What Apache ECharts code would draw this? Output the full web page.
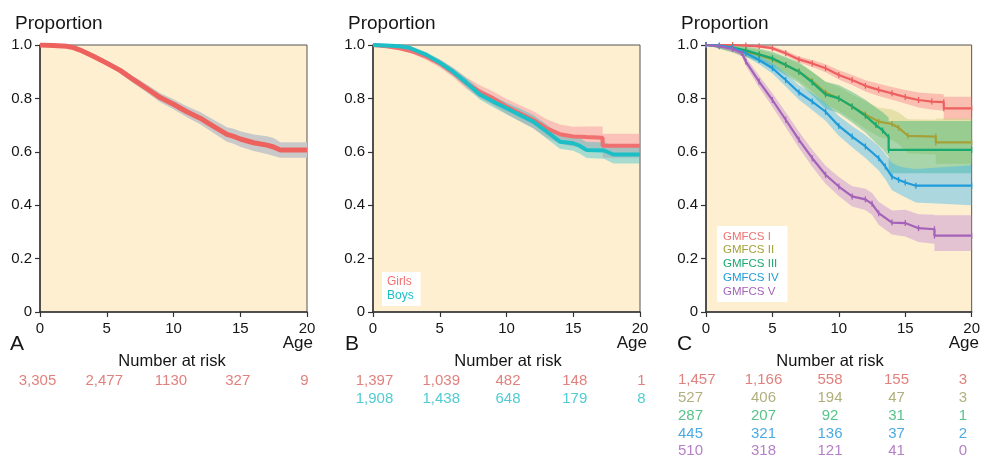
<!DOCTYPE html>
<html><head><meta charset="utf-8">
<script src="https://cdn.jsdelivr.net/npm/echarts@6/dist/echarts.min.js"></script>
<style>html,body{margin:0;padding:0;background:#fff}#c{width:983px;height:460px}</style>
</head><body><div id="c"></div>
<script>
// ---------- Panel A: all ----------
const ageA  = [0, 1, 2, 2.5, 3, 4, 5, 6, 7, 8, 9, 10, 11, 12, 13, 14, 14.5, 15, 16, 17, 17.5, 18, 20];
const survA = [1.0, 0.998, 0.995, 0.99, 0.981, 0.958, 0.932, 0.905, 0.87, 0.837, 0.803, 0.778, 0.75, 0.726, 0.695, 0.665, 0.658, 0.648, 0.634, 0.625, 0.618, 0.607, 0.607];
const lowA  = [1.0, 0.996, 0.992, 0.986, 0.976, 0.951, 0.923, 0.894, 0.857, 0.822, 0.786, 0.759, 0.729, 0.703, 0.670, 0.638, 0.630, 0.619, 0.603, 0.592, 0.584, 0.578, 0.578];
const highA = [1.0, 1.0, 0.998, 0.994, 0.986, 0.965, 0.941, 0.916, 0.883, 0.852, 0.820, 0.797, 0.771, 0.749, 0.720, 0.692, 0.686, 0.677, 0.665, 0.658, 0.652, 0.636, 0.636];

// ---------- Panel B: girls / boys ----------
const ageG  = [0, 1, 2, 3, 4, 5, 6, 7, 8, 9, 10, 11, 12, 13, 14, 15, 16, 17.2, 17.2, 20];
const survG = [1, 0.995, 0.988, 0.975, 0.956, 0.931, 0.897, 0.857, 0.825, 0.8, 0.77, 0.744, 0.72, 0.688, 0.666, 0.657, 0.655, 0.653, 0.623, 0.623];
const lowG  = [1, 0.99, 0.981, 0.966, 0.944, 0.916, 0.879, 0.836, 0.801, 0.774, 0.742, 0.714, 0.688, 0.654, 0.63, 0.62, 0.615, 0.611, 0.578, 0.578];
const highG = [1, 1, 0.995, 0.984, 0.968, 0.946, 0.915, 0.878, 0.849, 0.826, 0.798, 0.774, 0.752, 0.722, 0.702, 0.694, 0.695, 0.695, 0.668, 0.668];

const ageB  = [0, 1, 2, 2.7, 3, 4, 5, 6, 7, 8, 9, 10, 11, 12, 13, 14, 15, 15.5, 16, 17.3, 18, 20];
const survB = [1, 0.998, 0.995, 0.99, 0.984, 0.963, 0.934, 0.9, 0.859, 0.815, 0.788, 0.763, 0.738, 0.713, 0.676, 0.638, 0.632, 0.622, 0.607, 0.605, 0.59, 0.59];
const lowB  = [1, 0.994, 0.99, 0.984, 0.977, 0.953, 0.921, 0.885, 0.842, 0.796, 0.767, 0.741, 0.714, 0.688, 0.65, 0.611, 0.604, 0.593, 0.577, 0.574, 0.556, 0.556];
const highB = [1, 1, 1, 0.996, 0.991, 0.973, 0.947, 0.915, 0.876, 0.834, 0.809, 0.785, 0.762, 0.738, 0.702, 0.665, 0.66, 0.651, 0.637, 0.636, 0.624, 0.624];

// ---------- Panel C: GMFCS levels ----------
const ageC1  = [0, 2, 3, 4, 5, 6, 7, 8, 9, 10, 11, 12, 13, 14, 15, 16, 17, 17.9, 17.9, 20];
const survC1 = [1, 1, 0.998, 0.995, 0.988, 0.969, 0.946, 0.931, 0.913, 0.888, 0.869, 0.847, 0.832, 0.819, 0.805, 0.794, 0.788, 0.786, 0.763, 0.763];
const lowC1  = [1, 0.998, 0.994, 0.99, 0.981, 0.96, 0.935, 0.918, 0.898, 0.871, 0.85, 0.826, 0.809, 0.795, 0.781, 0.766, 0.758, 0.754, 0.72, 0.72];
const highC1 = [1, 1, 1, 0.999, 0.995, 0.978, 0.957, 0.944, 0.928, 0.905, 0.888, 0.868, 0.855, 0.843, 0.831, 0.822, 0.818, 0.816, 0.806, 0.806];

const ageC2  = [0, 2, 3, 4, 5, 6, 7, 8, 9, 10, 11, 12, 13, 14, 14.5, 15.2, 17.3, 17.3, 20];
const survC2 = [1, 0.99, 0.975, 0.963, 0.946, 0.925, 0.9, 0.865, 0.822, 0.8, 0.77, 0.74, 0.713, 0.704, 0.69, 0.66, 0.657, 0.635, 0.635];
const lowC2  = [1, 0.975, 0.955, 0.94, 0.92, 0.895, 0.866, 0.826, 0.778, 0.753, 0.72, 0.686, 0.656, 0.645, 0.628, 0.595, 0.59, 0.555, 0.555];
const highC2 = [1, 1, 0.99, 0.982, 0.968, 0.951, 0.93, 0.9, 0.862, 0.843, 0.815, 0.79, 0.765, 0.758, 0.747, 0.722, 0.72, 0.725, 0.725];

const ageC3  = [0, 2, 3, 4, 5, 6, 7, 8, 9, 10, 11, 12, 12.8, 13.3, 13.75, 13.75, 20];
const survC3 = [1, 0.99, 0.98, 0.965, 0.95, 0.925, 0.9, 0.86, 0.815, 0.8, 0.77, 0.735, 0.7, 0.68, 0.655, 0.607, 0.607];
const lowC3  = [1, 0.972, 0.955, 0.936, 0.916, 0.887, 0.857, 0.812, 0.762, 0.744, 0.71, 0.672, 0.633, 0.61, 0.582, 0.52, 0.52];
const highC3 = [1, 1, 0.995, 0.986, 0.975, 0.955, 0.935, 0.9, 0.862, 0.85, 0.825, 0.795, 0.765, 0.748, 0.728, 0.715, 0.715];

const ageC4  = [0, 1, 2, 3, 4, 5, 6, 7, 8, 9, 10, 11, 12, 13, 13.5, 14, 14.5, 15, 15.8, 20];
const survC4 = [1, 0.998, 0.99, 0.97, 0.944, 0.913, 0.869, 0.822, 0.788, 0.75, 0.697, 0.657, 0.62, 0.576, 0.545, 0.507, 0.495, 0.485, 0.473, 0.473];
const lowC4  = [1, 0.994, 0.982, 0.958, 0.928, 0.893, 0.845, 0.795, 0.757, 0.716, 0.66, 0.617, 0.577, 0.53, 0.497, 0.456, 0.443, 0.43, 0.41, 0.40];
const highC4 = [1, 1, 0.997, 0.982, 0.96, 0.933, 0.893, 0.849, 0.819, 0.784, 0.734, 0.697, 0.663, 0.622, 0.593, 0.558, 0.547, 0.54, 0.536, 0.55];

const ageC5  = [0, 1, 2, 2.7, 3, 4, 5, 6, 7, 8, 9, 10, 11, 12, 12.5, 13, 14, 15, 16, 17.2, 17.2, 20];
const survC5 = [1, 0.995, 0.985, 0.97, 0.938, 0.863, 0.794, 0.72, 0.645, 0.576, 0.514, 0.47, 0.433, 0.422, 0.405, 0.37, 0.335, 0.333, 0.314, 0.31, 0.286, 0.286];
const lowC5  = [1, 0.989, 0.975, 0.957, 0.922, 0.841, 0.769, 0.692, 0.615, 0.544, 0.48, 0.434, 0.395, 0.382, 0.364, 0.327, 0.29, 0.283, 0.262, 0.256, 0.228, 0.228];
const highC5 = [1, 1, 0.994, 0.983, 0.954, 0.885, 0.819, 0.748, 0.675, 0.608, 0.548, 0.506, 0.471, 0.462, 0.446, 0.413, 0.38, 0.383, 0.366, 0.364, 0.362, 0.362];

// ---------- Number at risk ----------
const riskAges = [0, 5, 10, 15, 20];
const riskA  = ['3,305', '2,477', '1130', '327', '9'];
const riskGirls = ['1,397', '1,039', '482', '148', '1'];
const riskBoys  = ['1,908', '1,438', '648', '179', '8'];
const riskC1 = ['1,457', '1,166', '558', '155', '3'];
const riskC2 = ['527', '406', '194', '47', '3'];
const riskC3 = ['287', '207', '92', '31', '1'];
const riskC4 = ['445', '321', '136', '37', '2'];
const riskC5 = ['510', '318', '121', '41', '0'];

// ---------- build ----------
const chart = echarts.init(document.getElementById('c'), null, {renderer: 'canvas'});
const FONT = 'Liberation Sans, Arial, Helvetica, sans-serif';
const TXT = '#151515';
const gridLefts = [40, 373, 706];
const gridWidths = [267, 267, 266];

const grids = [], xAxes = [], yAxes = [];
for (let i = 0; i < 3; i++) {
  grids.push({left: gridLefts[i], top: 45, width: gridWidths[i], height: 267, show: true,
    backgroundColor: '#FDEFD0', borderColor: '#555', borderWidth: 1});
  xAxes.push({type: 'value', gridIndex: i, min: 0, max: 20, interval: 5,
    axisLine: {show: true, onZero: false, lineStyle: {color: '#333', width: 1.5}},
    axisTick: {show: true, length: 5, lineStyle: {color: '#333', width: 1.2}},
    axisLabel: {fontSize: 15, color: TXT, margin: 9.5, fontFamily: FONT},
    splitLine: {show: false}});
  yAxes.push({type: 'value', gridIndex: i, min: 0, max: 1, interval: 0.2,
    axisLine: {show: true, onZero: false, lineStyle: {color: '#333', width: 1.5}},
    axisTick: {show: true, length: 5, lineStyle: {color: '#333', width: 1.2}},
    axisLabel: {fontSize: 15, color: TXT, margin: 8, fontFamily: FONT,
      formatter: v => v === 0 ? '0' : v.toFixed(1)},
    splitLine: {show: false}});
}
// risk-table grids
const riskRows = [1, 2, 5];
const riskOffsets = [-2.5, 1.5, -9];
for (let i = 0; i < 3; i++) {
  const n = riskRows[i];
  grids.push({left: gridLefts[i], top: 371.5, width: gridWidths[i], height: 18.5 * n, show: false});
  xAxes.push({type: 'value', gridIndex: 3 + i, min: 0, max: 20, show: false});
  yAxes.push({type: 'category', gridIndex: 3 + i, inverse: true, show: false,
    data: Array.from({length: n}, (_, k) => 'r' + k)});
}

const bandSeries = [], lineSeries = [], riskSeries = [];
function addKM(gi, name, ages, surv, low, high, lineColor, bandColor, lw, marks) {
  bandSeries.push({type: 'custom', name: name + ' ci', xAxisIndex: gi, yAxisIndex: gi, silent: true, z: 1,
    data: ages.map((a, k) => [a, low[k], high[k]]),
    encode: {x: 0, y: [1, 2]},
    renderItem: (params, api) => {
      if (params.dataIndex !== 0) return null;
      const pts = [];
      for (let k = 0; k < ages.length; k++) pts.push(api.coord([ages[k], high[k]]));
      for (let k = ages.length - 1; k >= 0; k--) pts.push(api.coord([ages[k], low[k]]));
      return {type: 'polygon', shape: {points: pts}, style: {fill: bandColor}};
    }});
  lineSeries.push({type: 'line', name: name, xAxisIndex: gi, yAxisIndex: gi,
    data: ages.map((a, k) => [a, surv[k]]),
    symbol: marks ? 'rect' : 'none', symbolSize: [1.3, 6], showSymbol: !!marks,
    itemStyle: {color: lineColor}, lineStyle: {color: lineColor, width: lw}, z: 3});
}
addKM(0, 'All', ageA, survA, lowA, highA, '#EE625E', '#C9C9C9', 5, false);
addKM(1, 'Girls', ageG, survG, lowG, highG, '#F07070', 'rgba(248,150,160,0.5)', 4, false);
addKM(1, 'Boys', ageB, survB, lowB, highB, '#1DBFC7', 'rgba(40,190,205,0.4)', 4, false);
addKM(2, 'GMFCS I', ageC1, survC1, lowC1, highC1, '#EE6060', 'rgba(245,120,130,0.4)', 2.2, true);
addKM(2, 'GMFCS II', ageC2, survC2, lowC2, highC2, '#A3A137', 'rgba(200,205,120,0.45)', 2.2, true);
addKM(2, 'GMFCS III', ageC3, survC3, lowC3, highC3, '#17A96E', 'rgba(40,175,110,0.4)', 2.2, true);
addKM(2, 'GMFCS IV', ageC4, survC4, lowC4, highC4, '#1E9BDA', 'rgba(60,180,240,0.42)', 2.2, true);
addKM(2, 'GMFCS V', ageC5, survC5, lowC5, highC5, '#A463B8', 'rgba(190,130,210,0.42)', 2.2, true);

function addRisk(panel, row, values, color) {
  const gi = 3 + panel;
  riskSeries.push({type: 'scatter', xAxisIndex: gi, yAxisIndex: gi, silent: true,
    symbolSize: 0.1, itemStyle: {color: 'rgba(0,0,0,0)'},
    data: riskAges.map((a, k) => {
      const d = {value: [a, row, values[k]]};
      if (panel === 2 && k === 0) d.label = {align: 'left', offset: [-28, 0]};
      return d;
    }),
    label: {show: true, position: 'inside', formatter: p => p.value[2], color: color,
      fontSize: 15, fontFamily: FONT, offset: [riskOffsets[panel], 0]}});
}
addRisk(0, 0, riskA, '#D9625C');
addRisk(1, 0, riskGirls, '#D9625C');
addRisk(1, 1, riskBoys, '#25BEC6');
addRisk(2, 0, riskC1, '#D9625C');
addRisk(2, 1, riskC2, '#9C9B5E');
addRisk(2, 2, riskC3, '#2DB36C');
addRisk(2, 3, riskC4, '#1D95DC');
addRisk(2, 4, riskC5, '#A260B6');

const titles = [];
['A', 'B', 'C'].forEach((L, i) => {
  titles.push({text: 'Proportion', left: [10, 343, 676][i], top: 9,
    textStyle: {fontSize: 19, fontWeight: 'normal', color: TXT, fontFamily: FONT}});
  titles.push({text: L, left: [5, 340, 672][i], top: 329,
    textStyle: {fontSize: 21, fontWeight: 'normal', color: TXT, fontFamily: FONT}});
});

const graphics = [];
[313, 647, 979].forEach(x => graphics.push({type: 'text', x: x, y: 343,
  style: {text: 'Age', fill: TXT, font: '17px ' + FONT, align: 'right', verticalAlign: 'middle'}}));
[172, 508, 830].forEach(x => graphics.push({type: 'text', x: x, y: 361.5,
  style: {text: 'Number at risk', fill: TXT, font: '16.5px ' + FONT, align: 'center', verticalAlign: 'middle'}}));

const legends = [
  {left: 382, top: 272, orient: 'vertical', selectedMode: false, backgroundColor: '#fff',
    padding: [3, 7, 3, 0], itemGap: 0, itemWidth: 0, itemHeight: 14, icon: 'rect',
    textStyle: {fontSize: 12, fontFamily: FONT},
    data: [{name: 'Girls', textStyle: {color: '#F07070'}}, {name: 'Boys', textStyle: {color: '#1DBFC7'}}]},
  {left: 717, top: 226, orient: 'vertical', selectedMode: false, backgroundColor: '#fff',
    padding: [3.5, 9, 3.5, 1], itemGap: 0, itemWidth: 0, itemHeight: 13.8, icon: 'rect',
    textStyle: {fontSize: 11.5, fontFamily: FONT},
    data: [{name: 'GMFCS I', textStyle: {color: '#F07070'}},
           {name: 'GMFCS II', textStyle: {color: '#A3A137'}},
           {name: 'GMFCS III', textStyle: {color: '#17A96E'}},
           {name: 'GMFCS IV', textStyle: {color: '#1E9BDA'}},
           {name: 'GMFCS V', textStyle: {color: '#A463B8'}}]}
];

chart.setOption({
  animation: false,
  backgroundColor: '#fff',
  title: titles,
  grid: grids, xAxis: xAxes, yAxis: yAxes,
  legend: legends,
  graphic: graphics,
  series: [...bandSeries, ...lineSeries, ...riskSeries]
});
</script></body></html>
